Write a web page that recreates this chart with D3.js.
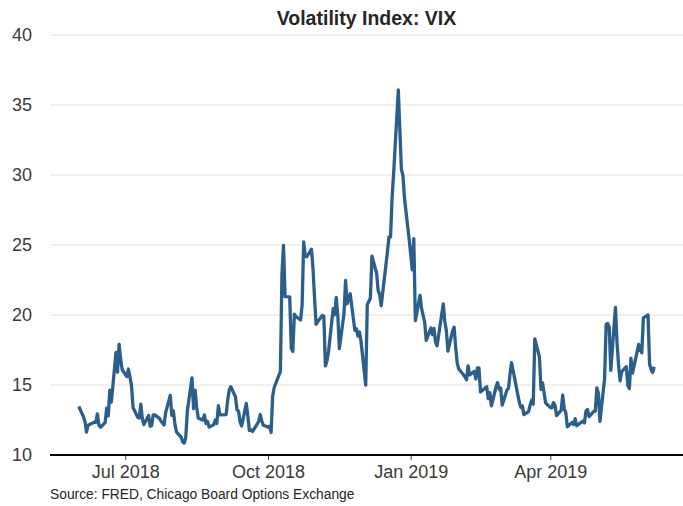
<!DOCTYPE html>
<html>
<head>
<meta charset="utf-8">
<script src="https://cdnjs.cloudflare.com/ajax/libs/d3/7.8.5/d3.min.js"></script>
<style>
  body { margin: 0; background: #fff; }
  text { font-family: "Liberation Sans", Arial, sans-serif; }
</style>
</head>
<body>
<svg id="chart" width="683" height="506"></svg>
<script>
// trading days by month, with VIX closes
const months = ["2018-06", "2018-07", "2018-08", "2018-09", "2018-10", "2018-11", "2018-12",
  "2019-01", "2019-02", "2019-03", "2019-04", "2019-05", "2019-06"];

const tradingDays = [
  [1,4,5,6,7,8,11,12,13,14,15,18,19,20,21,22,25,26,27,28,29],
  [2,3,5,6,9,10,11,12,13,16,17,18,19,20,23,24,25,26,27,30,31],
  [1,2,3,6,7,8,9,10,13,14,15,16,17,20,21,22,23,24,27,28,29,30,31],
  [4,5,6,7,10,11,12,13,14,17,18,19,20,21,24,25,26,27,28],
  [1,2,3,4,5,8,9,10,11,12,15,16,17,18,19,22,23,24,25,26,29,30,31],
  [1,2,5,6,7,8,9,12,13,14,15,16,19,20,21,23,26,27,28,29,30],
  [3,4,6,7,10,11,12,13,14,17,18,19,20,21,24,26,27,28,31],
  [2,3,4,7,8,9,10,11,14,15,16,17,18,22,23,24,25,28,29,30,31],
  [1,4,5,6,7,8,11,12,13,14,15,19,20,21,22,25,26,27,28],
  [1,4,5,6,7,8,11,12,13,14,15,18,19,20,21,22,25,26,27,28,29],
  [1,2,3,4,5,8,9,10,11,12,15,16,17,18,22,23,24,25,26,29,30],
  [1,2,3,6,7,8,9,10,13,14,15,16,17,20,21,22,23,24,28,29,30,31],
  [3,4,5,6,7]
];

const vixByMonth = [
  [13.46,12.74,12.40,11.64,12.13,12.18,12.35,12.34,12.94,12.12,11.98,12.31,13.35,12.79,14.64,13.77,17.33,15.92,17.91,16.85,16.09],
  [15.60,16.14,14.97,13.37,12.69,12.64,13.63,12.58,12.18,12.83,12.06,12.10,12.87,12.86,12.62,12.41,12.29,12.14,13.03,14.26,12.83],
  [13.15,12.19,11.64,11.27,10.93,10.85,11.27,13.16,15.50,13.31,14.64,13.45,12.64,12.49,12.86,12.25,12.41,11.99,12.16,12.50,12.25,13.53,12.86],
  [12.88,13.91,14.65,14.88,14.16,13.22,13.14,12.37,12.07,13.68,12.79,11.75,11.80,11.68,12.20,12.42,12.89,12.41,12.12],
  [12.00,12.05,11.61,14.22,14.82,15.69,15.95,22.96,24.98,21.31,21.30,17.62,17.40,20.06,19.89,19.64,20.71,25.23,24.22,24.16,24.70,23.35,21.23],
  [19.34,19.51,19.96,19.91,16.36,16.72,17.36,20.45,20.02,21.25,19.98,17.60,20.10,22.48,20.80,21.52,18.90,19.02,18.49,18.79,18.07],
  [15.00,20.74,21.19,24.20,23.00,21.76,21.46,20.65,21.63,24.52,25.58,25.58,28.38,30.11,36.07,30.41,29.96,28.34,25.42],
  [23.22,25.45,19.60,21.40,20.47,19.98,19.50,18.19,19.07,18.60,19.04,18.06,17.80,20.80,19.52,18.89,17.42,18.87,19.13,17.66,16.57],
  [16.14,15.73,15.57,15.38,16.37,15.72,15.97,15.43,16.22,16.22,14.50,14.88,14.02,14.46,13.51,14.85,15.17,14.70,14.78],
  [13.57,14.63,14.74,15.74,16.59,16.05,14.33,13.77,13.41,13.50,12.88,13.10,13.56,13.91,13.63,18.30,17.00,14.68,15.15,14.43,13.71],
  [13.40,13.36,13.74,13.58,12.82,13.18,14.28,13.30,13.02,12.01,12.32,12.18,12.60,12.09,12.42,12.28,13.14,13.25,12.73,13.11,13.12],
  [14.80,14.42,12.40,15.44,19.32,19.40,19.10,16.04,20.55,18.06,16.44,15.29,15.96,16.31,14.95,14.75,16.92,15.85,17.90,17.50,17.30,19.80],
  [20.00,16.50,16.10,15.90,16.30]
];

const yTicks = [10, 15, 20, 25, 30, 35, 40];
const xTicks = ["2018-07-01", "2018-10-01", "2019-01-01", "2019-04-01"];

const parse = d3.timeParse("%Y-%m-%d");
const data = [];
months.forEach((m, i) => {
  tradingDays[i].forEach((d, j) => {
    data.push({ date: parse(m + "-" + String(d).padStart(2, "0")), value: vixByMonth[i][j] });
  });
});

const svg = d3.select("#chart");
const margin = { top: 35, right: 0, bottom: 51, left: 50 },
  width = 683, height = 506;

// ggplot style 5% padding on the date axis
const ext = d3.extent(data, d => d.date);
const pad = (ext[1] - ext[0]) * 0.05;
const x = d3.scaleTime()
  .domain([new Date(+ext[0] - pad), new Date(+ext[1] + pad)])
  .range([margin.left, width - margin.right]);
const y = d3.scaleLinear()
  .domain([10, 40])
  .range([height - margin.bottom, margin.top]);

// horizontal grid
svg.append("g")
  .selectAll("line")
  .data(yTicks.filter(t => t > 10))
  .enter().append("line")
    .attr("x1", margin.left).attr("x2", width - margin.right)
    .attr("y1", d => y(d)).attr("y2", d => y(d))
    .style("stroke", "#e3e3e3")
    .style("stroke-width", 1);

// y labels
svg.append("g")
  .selectAll("text")
  .data(yTicks)
  .enter().append("text")
    .attr("x", 32)
    .attr("y", d => y(d))
    .attr("dy", "0.36em")
    .style("text-anchor", "end")
    .style("font-size", "18px")
    .style("fill", "#3a3a3a")
    .text(d => d);

// x axis
const xAxis = svg.append("g")
  .attr("transform", `translate(0,${y(10)})`)
  .call(d3.axisBottom(x)
    .tickValues(xTicks.map(parse))
    .tickFormat(d3.timeFormat("%b %Y"))
    .tickSize(5)
    .tickPadding(5));
xAxis.select(".domain").remove();
xAxis.selectAll(".tick line").style("stroke", "#444");
xAxis.selectAll(".tick text")
  .style("font-size", "18px")
  .style("fill", "#3a3a3a")
  .style("font-family", "\"Liberation Sans\", Arial, sans-serif");
svg.append("line")
  .attr("x1", margin.left).attr("x2", width - margin.right)
  .attr("y1", y(10)).attr("y2", y(10))
  .style("stroke", "#000")
  .style("stroke-width", 2);

// the series
const line = d3.line()
  .x(d => x(d.date))
  .y(d => y(d.value));
svg.append("path")
  .datum(data)
  .attr("d", line)
  .style("fill", "none")
  .style("stroke", "#2c5e8c")
  .style("stroke-width", 3.3)
  .style("stroke-linejoin", "round");

// title and caption
svg.append("text")
  .attr("x", (margin.left + width - margin.right) / 2)
  .attr("y", 25)
  .style("text-anchor", "middle")
  .style("font-size", "19.5px")
  .style("font-weight", "bold")
  .style("fill", "#262626")
  .text("Volatility Index: VIX");

svg.append("text")
  .attr("x", margin.left)
  .attr("y", 499)
  .style("font-size", "13.8px")
  .style("fill", "#262626")
  .text("Source: FRED, Chicago Board Options Exchange");
</script>
</body>
</html>
